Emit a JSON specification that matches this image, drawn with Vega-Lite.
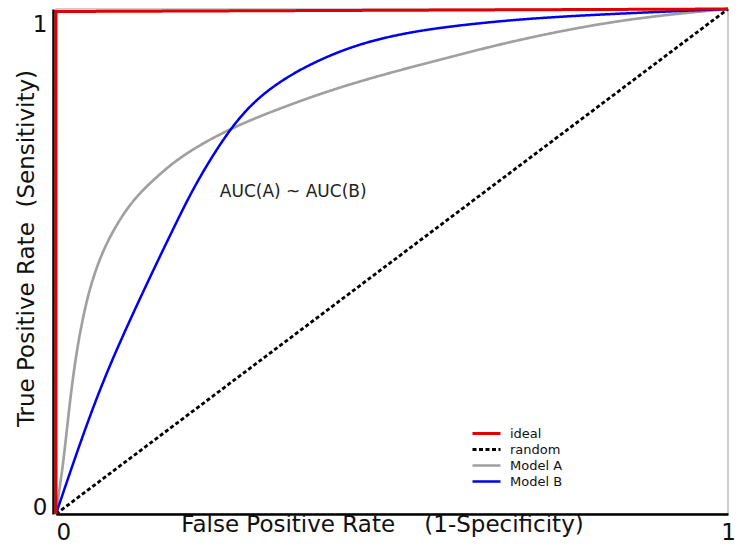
{
  "$schema": "https://vega.github.io/schema/vega-lite/v6.json",
  "width": 672,
  "height": 505,
  "autosize": "none",
  "padding": {"left": 56, "top": 9, "right": 10, "bottom": 33},
  "background": "white",
  "config": {
    "font": "DejaVu Sans",
    "view": {"stroke": "#bdbdbd", "strokeWidth": 1.5},
    "legend": {
      "orient": "none",
      "legendX": 422,
      "legendY": 416,
      "symbolType": "M-2,0H2",
      "symbolSize": 196,
      "symbolStrokeWidth": 2,
      "labelFontSize": 13,
      "labelColor": "#111",
      "labelOffset": 15,
      "rowPadding": 0,
      "padding": 0
    }
  },
  "datasets": {
    "curves": [
      {"series": "Model A", "i": 0, "fpr": 0, "tpr": 0},
      {"series": "Model A", "i": 1, "fpr": 0.0045, "tpr": 0.045},
      {"series": "Model A", "i": 2, "fpr": 0.0109, "tpr": 0.1},
      {"series": "Model A", "i": 3, "fpr": 0.0208, "tpr": 0.226},
      {"series": "Model A", "i": 4, "fpr": 0.0308, "tpr": 0.325},
      {"series": "Model A", "i": 5, "fpr": 0.0432, "tpr": 0.41},
      {"series": "Model A", "i": 6, "fpr": 0.055, "tpr": 0.468},
      {"series": "Model A", "i": 7, "fpr": 0.07, "tpr": 0.522},
      {"series": "Model A", "i": 8, "fpr": 0.088, "tpr": 0.568},
      {"series": "Model A", "i": 9, "fpr": 0.1057, "tpr": 0.605},
      {"series": "Model A", "i": 10, "fpr": 0.125, "tpr": 0.636},
      {"series": "Model A", "i": 11, "fpr": 0.15, "tpr": 0.668},
      {"series": "Model A", "i": 12, "fpr": 0.189, "tpr": 0.712},
      {"series": "Model A", "i": 13, "fpr": 0.259, "tpr": 0.764},
      {"series": "Model A", "i": 14, "fpr": 0.338, "tpr": 0.806},
      {"series": "Model A", "i": 15, "fpr": 0.4375, "tpr": 0.853},
      {"series": "Model A", "i": 16, "fpr": 0.586, "tpr": 0.905},
      {"series": "Model A", "i": 17, "fpr": 0.705, "tpr": 0.945},
      {"series": "Model A", "i": 18, "fpr": 0.854, "tpr": 0.982},
      {"series": "Model A", "i": 19, "fpr": 1, "tpr": 1},
      {"series": "Model B", "i": 0, "fpr": 0, "tpr": 0},
      {"series": "Model B", "i": 1, "fpr": 0.0406, "tpr": 0.16},
      {"series": "Model B", "i": 2, "fpr": 0.08, "tpr": 0.298},
      {"series": "Model B", "i": 3, "fpr": 0.14, "tpr": 0.47},
      {"series": "Model B", "i": 4, "fpr": 0.18, "tpr": 0.58},
      {"series": "Model B", "i": 5, "fpr": 0.21, "tpr": 0.66},
      {"series": "Model B", "i": 6, "fpr": 0.259, "tpr": 0.765},
      {"series": "Model B", "i": 7, "fpr": 0.3036, "tpr": 0.83},
      {"series": "Model B", "i": 8, "fpr": 0.363, "tpr": 0.882},
      {"series": "Model B", "i": 9, "fpr": 0.4375, "tpr": 0.926},
      {"series": "Model B", "i": 10, "fpr": 0.512, "tpr": 0.951},
      {"series": "Model B", "i": 11, "fpr": 0.586, "tpr": 0.966},
      {"series": "Model B", "i": 12, "fpr": 0.705, "tpr": 0.982},
      {"series": "Model B", "i": 13, "fpr": 0.854, "tpr": 0.992},
      {"series": "Model B", "i": 14, "fpr": 1, "tpr": 1}
    ],
    "straight": [
      {"series": "random", "i": 0, "fpr": 0, "tpr": 0},
      {"series": "random", "i": 1, "fpr": 1, "tpr": 1},
      {"series": "ideal", "i": 0, "fpr": 0, "tpr": 0},
      {"series": "ideal", "i": 1, "fpr": 0, "tpr": 0.995},
      {"series": "ideal", "i": 2, "fpr": 1, "tpr": 1}
    ],
    "note": [
      {"label": "AUC(A) ~ AUC(B)", "fpr": 0.353, "tpr": 0.638}
    ]
  },
  "encoding": {
    "x": {
      "field": "fpr",
      "type": "quantitative",
      "scale": {"domain": [0, 1], "nice": false, "zero": false},
      "axis": {
        "values": [0, 1],
        "format": "d",
        "grid": false,
        "ticks": false,
        "domainColor": "#000",
        "domainWidth": 2.5,
        "labelFontSize": 23,
        "labelColor": "#111",
        "labelPadding": 7,
        "labelAlign": {"condition": {"test": "datum.value == 0", "value": "left"}, "value": "center"},
        "title": "False Positive Rate\u00a0\u00a0\u00a0\u00a0(1-Specificity)",
        "titleFontSize": 23,
        "titleFontWeight": "normal",
        "titleColor": "#111",
        "titleX": 326,
        "titleY": 17,
        "titleAlign": "center",
        "titleBaseline": "alphabetic"
      }
    },
    "y": {
      "field": "tpr",
      "type": "quantitative",
      "scale": {"domain": [0, 1], "nice": false, "zero": false},
      "axis": {
        "values": [0, 1],
        "format": "d",
        "grid": false,
        "ticks": false,
        "offset": 3,
        "domainColor": "#000",
        "domainWidth": 2.5,
        "labelFontSize": 23,
        "labelColor": "#111",
        "labelPadding": 6,
        "labelBaseline": {"condition": {"test": "datum.value == 1", "value": "top"}, "value": "alphabetic"},
        "labelOffset": {"condition": {"test": "datum.value == 1", "value": 4}, "value": 0},
        "title": "True Positive Rate\u00a0\u00a0(Sensitivity)",
        "titleFontSize": 23,
        "titleFontWeight": "normal",
        "titleColor": "#111",
        "titleX": -20,
        "titleY": 239,
        "titleAlign": "center",
        "titleBaseline": "alphabetic"
      }
    }
  },
  "layer": [
    {
      "data": {"name": "curves"},
      "mark": {"type": "line", "interpolate": "basis"},
      "encoding": {
        "color": {
          "field": "series", "type": "nominal",
          "scale": {"domain": ["ideal", "random", "Model A", "Model B"], "range": ["#e00000", "#000000", "#a0a0a0", "#0000ee"]},
          "legend": {"title": null}
        },
        "strokeDash": {
          "field": "series", "type": "nominal",
          "scale": {"domain": ["ideal", "random", "Model A", "Model B"], "range": [[1, 0], [4, 2.5], [1, 0], [1, 0]]},
          "legend": {"title": null}
        },
        "strokeWidth": {
          "field": "series", "type": "ordinal",
          "scale": {"domain": ["ideal", "random", "Model A", "Model B"], "range": [3, 2.5, 2, 3]},
          "legend": null
        },
        "order": {"field": "i", "type": "quantitative"}
      }
    },
    {
      "data": {"name": "straight"},
      "mark": {"type": "line", "interpolate": "linear"},
      "encoding": {
        "color": {"field": "series", "type": "nominal", "legend": {"title": null}},
        "strokeDash": {"field": "series", "type": "nominal", "legend": {"title": null}},
        "strokeWidth": {"field": "series", "type": "ordinal", "legend": null},
        "order": {"field": "i", "type": "quantitative"}
      }
    },
    {
      "data": {"name": "note"},
      "mark": {"type": "text", "fontSize": 17, "color": "#222", "align": "center", "baseline": "middle"},
      "encoding": {
        "text": {"field": "label", "type": "nominal"}
      }
    }
  ]
}
